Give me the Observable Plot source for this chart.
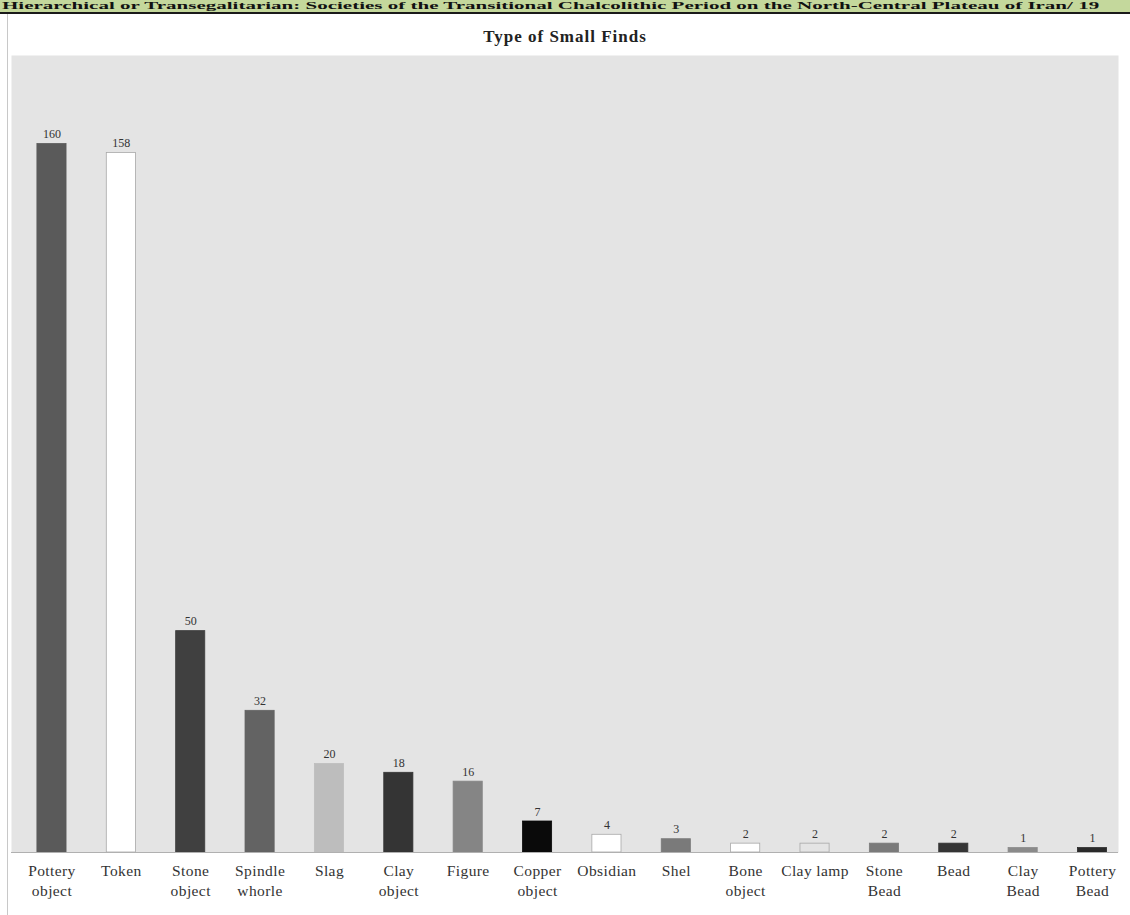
<!DOCTYPE html>
<html>
<head>
<meta charset="utf-8">
<script src="https://cdn.jsdelivr.net/npm/d3@7"></script>
<script src="https://cdn.jsdelivr.net/npm/@observablehq/plot@0.6"></script>
<style>
  html, body { margin: 0; padding: 0; background: #fff; }
  body { position: relative; width: 1130px; height: 915px; overflow: hidden; font-family: "Liberation Serif", "DejaVu Serif", serif; }
  #header { position: absolute; left: 0; top: 0; width: 1130px; height: 12px; background: #c4d89c; border-bottom: 2px solid #1a1a1a; }
  #header span { position: absolute; left: 2px; top: 0px; font-weight: bold; font-size: 10.5px; line-height: 12px; color: #111; white-space: nowrap; transform: scaleX(2.0); transform-origin: left center; }
  #leftline { position: absolute; left: 7px; top: 14px; width: 1px; height: 901px; background: #c8c8c8; }
  #title { position: absolute; left: 0; width: 1130px; top: 27px; text-align: center; font-weight: bold; font-size: 17px; letter-spacing: 1px; color: #222; }
  #chart { position: absolute; left: 0; top: 55px; }
</style>
</head>
<body>
<div id="header"><span>Hierarchical or Transegalitarian: Societies of the Transitional Chalcolithic Period on the North-Central Plateau of Iran/ 19</span></div>
<div id="leftline"></div>
<div id="title">Type of Small Finds</div>
<div id="chart"></div>
<script>
const categories = ["Pottery object","Token","Stone object","Spindle whorle","Slag","Clay object","Figure","Copper object","Obsidian","Shel","Bone object","Clay lamp","Stone Bead","Bead","Clay Bead","Pottery Bead"];
const tickLabels = ["Pottery\nobject","Token","Stone\nobject","Spindle\nwhorle","Slag","Clay\nobject","Figure","Copper\nobject","Obsidian","Shel","Bone\nobject","Clay lamp","Stone\nBead","Bead","Clay\nBead","Pottery\nBead"];
const values = [160,158,50,32,20,18,16,7,4,3,2,2,2,2,1,1];
const colors = ["#5a5a5a","#ffffff","#404040","#636363","#bdbdbd","#343434","#858585","#0a0a0a","#ffffff","#7a7a7a","#ffffff","#e4e4e4","#7a7a7a","#353535","#8a8a8a","#2a2a2a"];

const data = categories.map((c, i) => ({category: c, value: values[i], color: colors[i], label: tickLabels[i]}));
const labelOf = new Map(data.map(d => [d.category, d.label]));

const chart = Plot.plot({
  width: 1130,
  height: 860,
  marginTop: 0,
  marginLeft: 11,
  marginRight: 12,
  marginBottom: 63,
  style: {fontFamily: "'Liberation Serif', serif", background: "transparent"},
  x: {domain: categories, range: [16.1, 1127.4], paddingInner: 0.58, paddingOuter: 0.3, round: false, label: null},
  y: {domain: [0, 180], axis: null},
  marks: [
    Plot.frame({fill: "#e4e4e4", stroke: null}),
    Plot.barY(data, {x: "category", y: "value", fill: "color", stroke: d => d.color === "#ffffff" || d.color === "#e4e4e4" ? "#a8a8a8" : d.color, strokeWidth: 0.8}),
    Plot.text(data, {x: "category", y: "value", text: d => String(d.value), dy: -6, fontSize: 12, fill: "#333", lineAnchor: "bottom", style: "letter-spacing:0.5px"}),
    Plot.ruleY([0], {stroke: "#b0b0b0", strokeWidth: 1}),
    Plot.axisX({tickSize: 0, tickPadding: 9, fontSize: 15.5, lineHeight: 1.3, fill: "#333", tickFormat: d => labelOf.get(d), lineAnchor: "top", label: null})
  ]
});
chart.querySelectorAll("g[aria-label='x-axis tick label'] text").forEach(t => t.style.letterSpacing = "0.4px");
document.getElementById("chart").appendChild(chart);
</script>
</body>
</html>
